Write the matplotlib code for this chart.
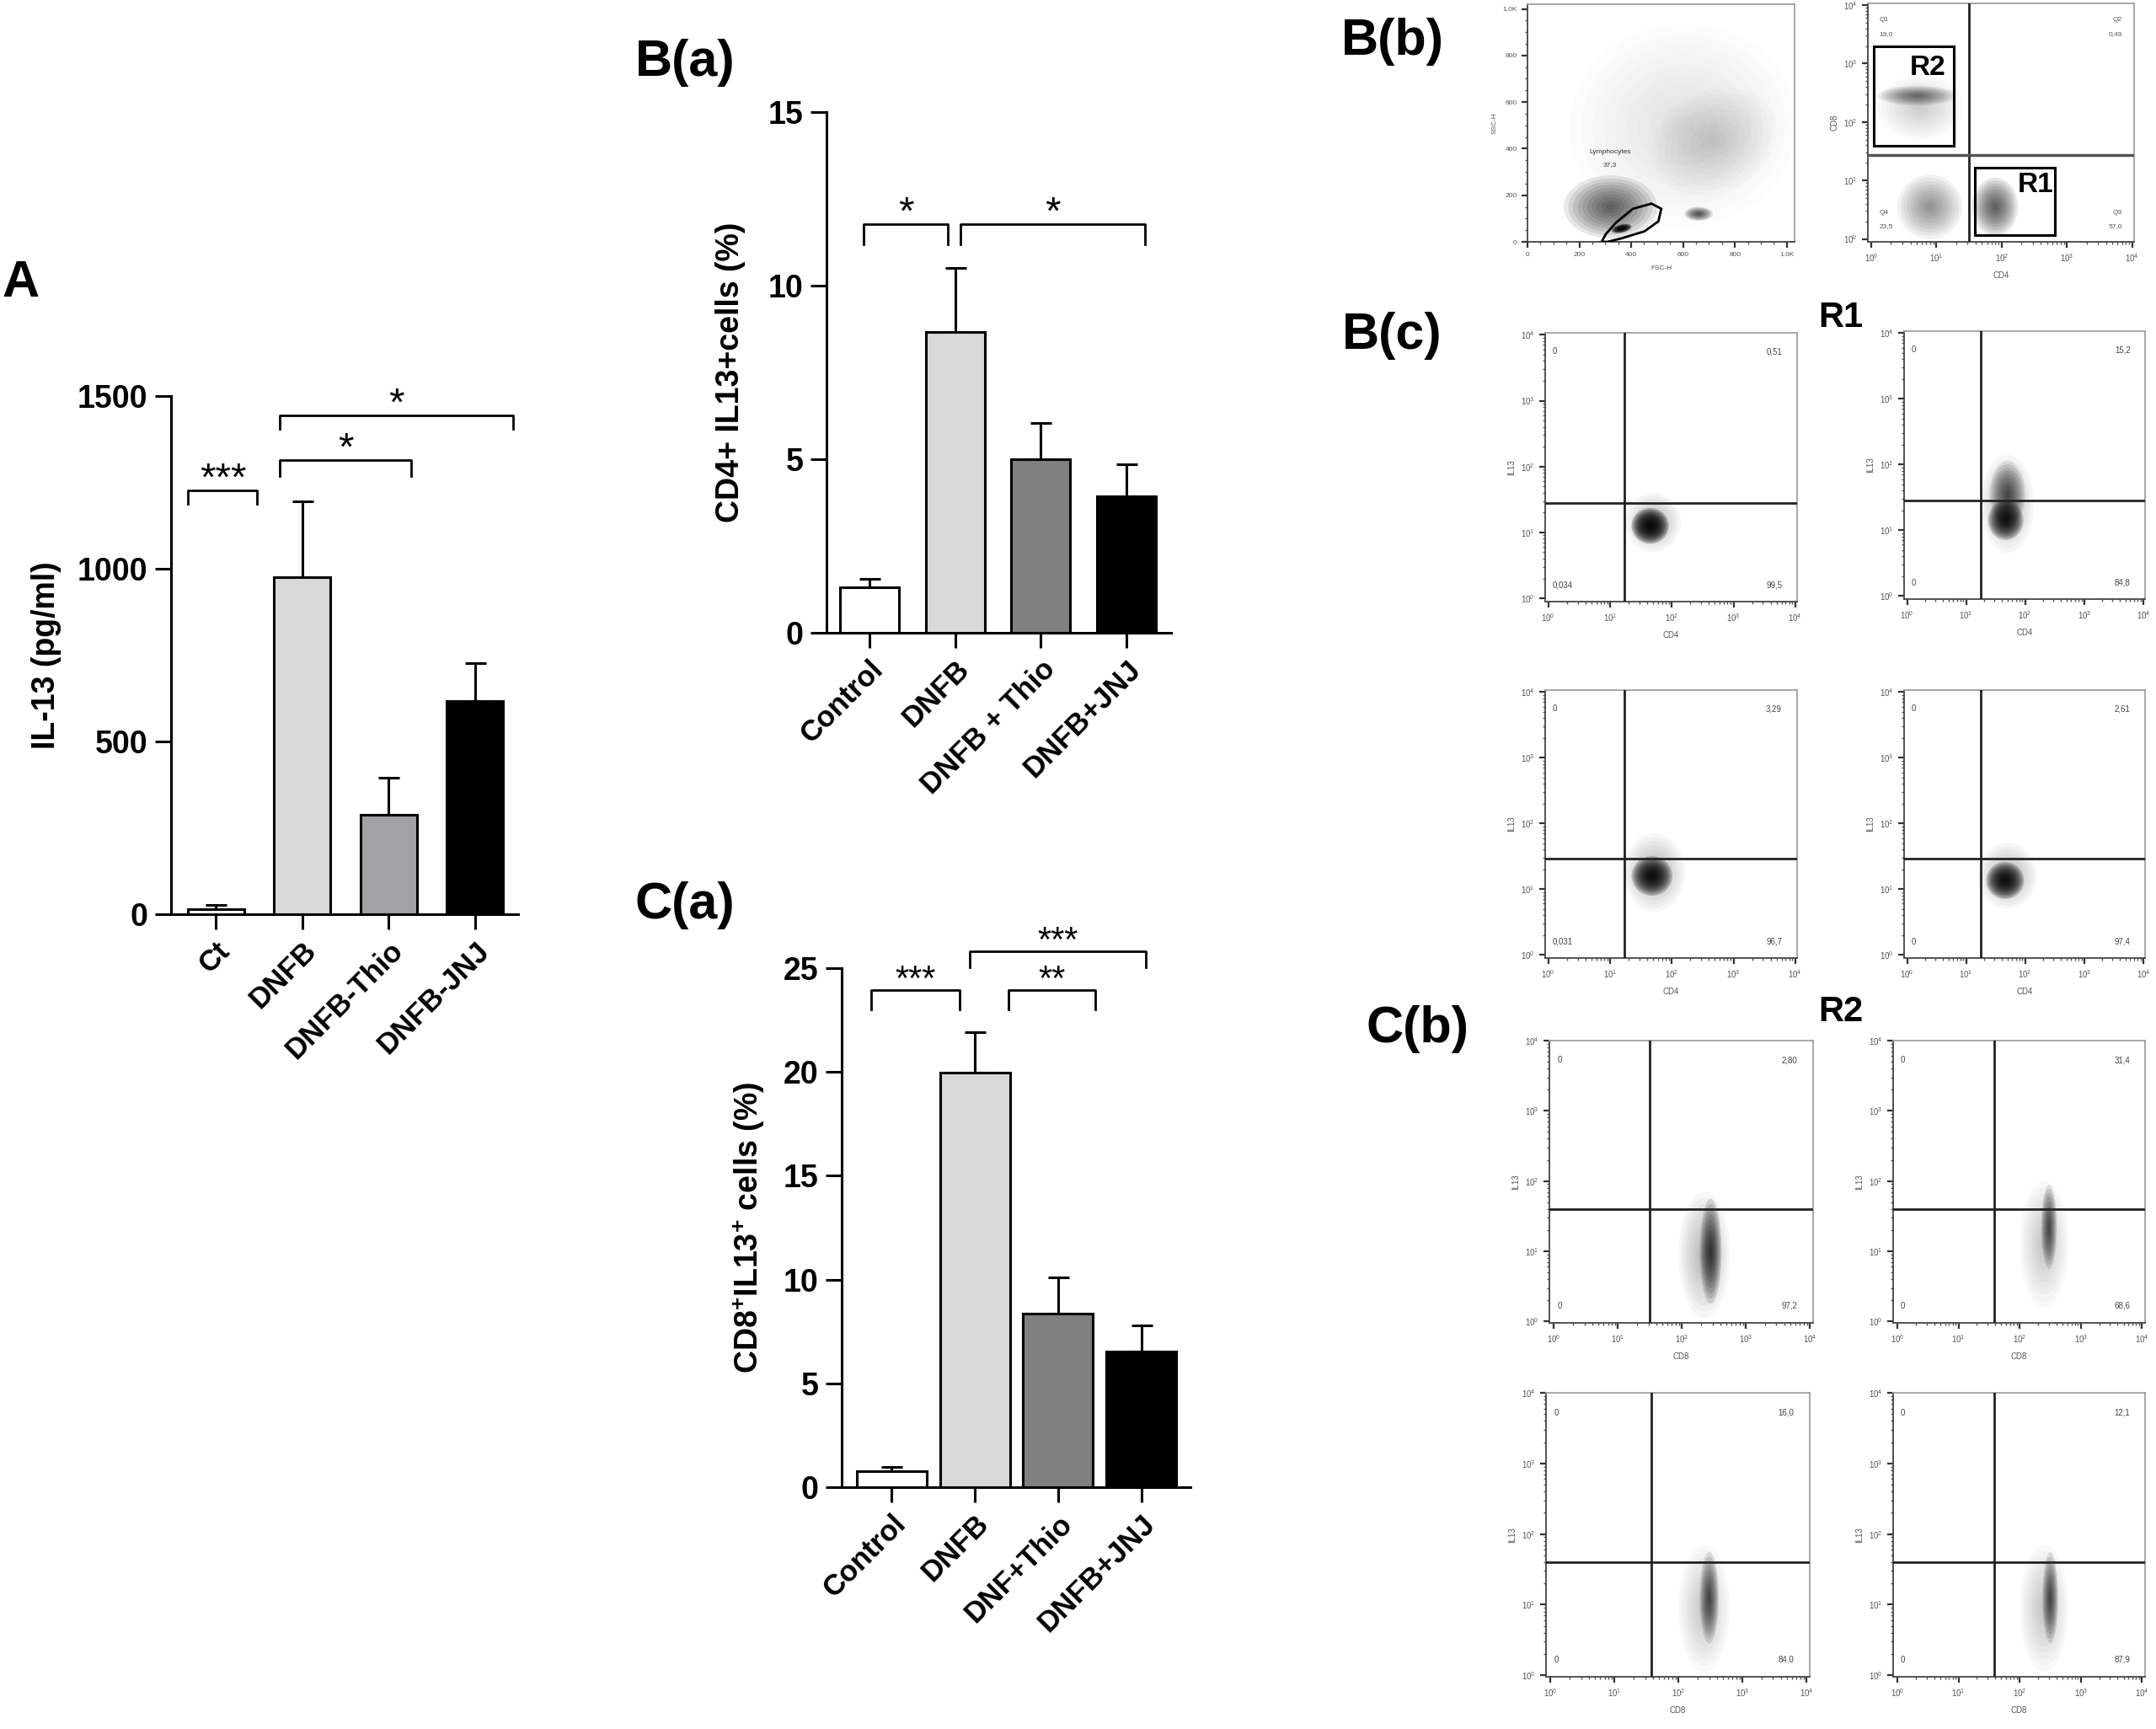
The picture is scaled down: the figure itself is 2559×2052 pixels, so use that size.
import matplotlib
matplotlib.use('Agg')
import matplotlib.pyplot as plt
from matplotlib.patches import Ellipse, Rectangle, Polygon
import numpy as np

plt.rcParams['font.family'] = ['Liberation Sans', 'DejaVu Sans']
plt.rcParams['mathtext.fontset'] = 'custom'
plt.rcParams['mathtext.rm'] = 'Liberation Sans'
plt.rcParams['mathtext.bf'] = 'Liberation Sans:bold'

# ---------------- bar chart data ----------------
a_labels = ['Ct', 'DNFB', 'DNFB-Thio', 'DNFB-JNJ']
a_means = [15, 975, 288, 617]
a_errs = [13, 220, 106, 109]
a_colors = ['white', '#d9d9d9', '#a2a2a6', 'black']
a_yticks = [0, 500, 1000, 1500]
# (x1, x2, y_leg, y_top, stars)
a_brackets = [(-0.32, 0.48, 1188, 1227, '***'),
              (0.74, 2.26, 1269, 1315, '*'),
              (0.74, 3.44, 1405, 1444, '*')]

ba_labels = ['Control', 'DNFB', 'DNFB + Thio', 'DNFB+JNJ']
ba_means = [1.31, 8.66, 5.0, 3.92]
ba_errs = [0.25, 1.84, 1.04, 0.93]
ba_colors = ['white', '#d9d9d9', '#808080', 'black']
ba_yticks = [0, 5, 10, 15]
ba_brackets = [(-0.07, 0.92, 11.2, 11.77, '*'),
               (1.06, 3.22, 11.2, 11.77, '*')]

ca_labels = ['Control', 'DNFB', 'DNF+Thio', 'DNFB+JNJ']
ca_means = [0.78, 19.98, 8.35, 6.53]
ca_errs = [0.21, 1.95, 1.75, 1.27]
ca_colors = ['white', '#d9d9d9', '#808080', 'black']
ca_yticks = [0, 5, 10, 15, 20, 25]
ca_brackets = [(-0.25, 0.82, 23.0, 23.96, '***'),
               (1.40, 2.45, 23.0, 23.96, '**'),
               (0.94, 3.05, 25.05, 25.83, '***')]

# ---------------- flow cytometry annotations ----------------
# FSC/SSC plot
fsc_ticks = [0, 200, 400, 600, 800, 1000]
fsc_ticklabels = ['0', '200', '400', '600', '800', '1.0K']
gate_x = [286, 302, 341, 407, 478, 516, 505, 451, 363, 308]
gate_y = [0, 33, 82, 142, 164, 142, 88, 45, 15, 0]
# clouds: (cx, cy, rx, ry, strength, angle)
fsc_clouds = [(600, 500, 440, 430, 0.01, 35),
              (720, 430, 260, 210, 0.015, 40),
              (320, 150, 180, 135, 0.09, 0),
              (660, 120, 55, 30, 0.1, 0),
              (363, 57, 40, 18, 0.3, 15)]

# CD4 / CD8 plot (log decades)
cd_vline, cd_hline = 1.5, 1.43
r2_box = (0.04, 1.6, 1.23, 1.69)
r1_box = (1.59, 0.06, 1.23, 1.16)
cd_clouds = [(0.75, 2.25, 0.65, 0.55, 0.02, 0),
             (0.7, 2.45, 0.6, 0.17, 0.07, 0),
             (0.9, 0.55, 0.5, 0.55, 0.05, 0),
             (1.9, 0.55, 0.35, 0.5, 0.09, 0)]
cd_texts = [(0.12, 3.75, 'Q1', 'left'), (0.12, 3.5, '19,0', 'left'),
            (3.85, 3.75, 'Q2', 'right'), (3.85, 3.5, '0,49', 'right'),
            (0.12, 0.45, 'Q4', 'left'), (0.12, 0.21, '23,5', 'left'),
            (3.85, 0.45, 'Q3', 'right'), (3.85, 0.21, '57,0', 'right')]

# B(c) R1 gated, IL13 vs CD4
bc_vlines = [1.23, 1.25, 1.23, 1.25]
bc_hlines = [1.45, 1.45, 1.47, 1.47]
bc_values = [['0', '0,51', '0,034', '99,5'],
             ['0', '15,2', '0', '84,8'],
             ['0', '3,29', '0,031', '96,7'],
             ['0', '2,61', '0', '97,4']]
bc_clouds = [[(1.7, 1.15, 0.45, 0.45, 0.03, 0), (1.65, 1.1, 0.3, 0.27, 0.25, 0)],
             [(1.7, 1.4, 0.45, 0.75, 0.03, 0), (1.7, 1.55, 0.3, 0.5, 0.09, 0),
              (1.67, 1.15, 0.3, 0.3, 0.2, 0)],
             [(1.72, 1.25, 0.5, 0.6, 0.03, 0), (1.68, 1.2, 0.33, 0.3, 0.22, 0)],
             [(1.7, 1.2, 0.5, 0.5, 0.03, 0), (1.66, 1.13, 0.32, 0.28, 0.22, 0)]]

# C(b) R2 gated, IL13 vs CD8
cb_vlines = [1.49, 1.58, 1.58, 1.58]
cb_hlines = [1.6, 1.6, 1.6, 1.6]
cb_values = [['0', '2,80', '0', '97,2'],
             ['0', '31,4', '0', '68,6'],
             ['0', '16,0', '0', '84,0'],
             ['0', '12,1', '0', '87,9']]
cb_clouds = [[(2.35, 0.95, 0.4, 0.9, 0.03, 0), (2.45, 1.0, 0.17, 0.75, 0.12, 0)],
             [(2.4, 1.1, 0.4, 0.9, 0.025, 0), (2.48, 1.35, 0.13, 0.6, 0.1, 0)],
             [(2.4, 0.95, 0.4, 0.9, 0.025, 0), (2.48, 1.1, 0.15, 0.65, 0.1, 0)],
             [(2.4, 0.95, 0.4, 0.9, 0.025, 0), (2.5, 1.1, 0.13, 0.65, 0.1, 0)]]

W, H = 2559, 2052
fig = plt.figure(figsize=(W / 100, H / 100), dpi=100)
fig.patch.set_facecolor('white')


def px_rect(x0, y0, x1, y1):
    return [x0 / W, 1 - y1 / H, (x1 - x0) / W, (y1 - y0) / H]


def bar_panel(rect, labels, means, errs, colors, yticks, xlim, width, brackets,
              ylabel, label_x, star_size=34):
    ax = fig.add_axes(rect)
    x = np.arange(len(means))
    ax.bar(x, means, width=width, color=colors, edgecolor='black', linewidth=2.2, zorder=2)
    ax.errorbar(x, means, yerr=[np.zeros(len(errs)), errs], fmt='none', ecolor='black',
                elinewidth=2.2, capsize=9, capthick=2.2, zorder=1)
    ax.set_xlim(xlim)
    ax.set_ylim(0, yticks[-1])
    for s in ['top', 'right']:
        ax.spines[s].set_visible(False)
    for s in ['left', 'bottom']:
        ax.spines[s].set_linewidth(2.2)
    ax.set_yticks(yticks)
    ax.set_yticklabels([str(t) for t in yticks], fontweight='bold', fontsize=27)
    ax.set_xticks(x)
    ax.set_xticklabels(labels, rotation=45, ha='right', rotation_mode='anchor',
                       fontweight='bold', fontsize=25)
    ax.tick_params(axis='y', length=14, width=2.2, pad=6)
    ax.tick_params(axis='x', length=13, width=2.2, pad=6)
    ax.set_ylabel(ylabel, fontsize=27, fontweight='bold')
    ax.yaxis.set_label_coords(label_x, 0.5)
    for x1, x2, yl, yt, stars in brackets:
        ax.plot([x1, x1, x2, x2], [yl, yt, yt, yl], color='black', lw=2, clip_on=False)
        ax.text((x1 + x2) / 2, yt, stars, ha='center', va='baseline',
                fontsize=star_size, clip_on=False)
    return ax


bar_panel(px_rect(203, 470, 615, 1085), a_labels, a_means, a_errs, a_colors, a_yticks,
          (-0.52, 3.5), 0.65, a_brackets, 'IL-13 (pg/ml)', -0.315)
bar_panel(px_rect(981, 133, 1390, 751), ba_labels, ba_means, ba_errs, ba_colors, ba_yticks,
          (-0.5, 3.52), 0.69, ba_brackets, 'CD4+ IL13+cells (%)', -0.235)
bar_panel(px_rect(999, 1149, 1413, 1765), ca_labels, ca_means, ca_errs, ca_colors, ca_yticks,
          (-0.6, 3.59), 0.84, ca_brackets,
          r'CD8$^{\mathbf{+}}$IL13$^{\mathbf{+}}$ cells (%)', -0.215, star_size=30)


def cloud(ax, c, n=10):
    cx, cy, rx, ry, strength, angle = c
    for k in range(n):
        f = 1 - k / n
        ax.add_patch(Ellipse((cx, cy), 2 * rx * f, 2 * ry * f, angle=angle,
                             facecolor='black', edgecolor='none', alpha=strength, zorder=1))


def log_axes(rect, xlabel, ylabel, xlim=(-0.05, 4.03), ylim=(-0.05, 4.03)):
    ax = fig.add_axes(rect)
    ax.set_xlim(xlim)
    ax.set_ylim(ylim)
    for s in ax.spines.values():
        s.set_color('#a0a0a0')
        s.set_linewidth(1.3)
    ax.spines['left'].set_color('#444444')
    ax.spines['bottom'].set_color('#444444')
    dec = [0, 1, 2, 3, 4]
    minor = [d + np.log10(m) for d in range(4) for m in range(2, 10)]
    ax.set_xticks(dec)
    ax.set_yticks(dec)
    ax.set_xticks(minor, minor=True)
    ax.set_yticks(minor, minor=True)
    ax.set_xticklabels([r'$10^{%d}$' % d for d in dec])
    ax.set_yticklabels([r'$10^{%d}$' % d for d in dec])
    ax.tick_params(which='major', length=5, width=1.6, color='#333333', labelsize=7,
                   labelcolor='#555555', pad=4)
    ax.tick_params(which='minor', length=2.5, width=1, color='#555555')
    ax.set_xlabel(xlabel, fontsize=7, color='#555555', labelpad=6)
    ax.set_ylabel(ylabel, fontsize=7, color='#555555', labelpad=4)
    return ax


def quad_plot(rect, xlabel, vline, hline, values, clouds, xlim=(-0.05, 4.03), ylim=(-0.05, 4.03)):
    ax = log_axes(rect, xlabel, 'IL13', xlim, ylim)
    for c in clouds:
        cloud(ax, c)
    ax.axvline(vline, color='#222222', lw=2, zorder=3)
    ax.axhline(hline, color='#222222', lw=2, zorder=3)
    pos = [(0.03, 0.93, 'left'), (0.94, 0.93, 'right'), (0.03, 0.06, 'left'), (0.94, 0.06, 'right')]
    for (px, py, ha), v in zip(pos, values):
        ax.text(px, py, v, transform=ax.transAxes, ha=ha, va='center', fontsize=7, color='#444444')
    return ax


# B(b) FSC / SSC
ax = fig.add_axes(px_rect(1813, 5, 2130, 287))
ax.set_xlim(0, 1030)
ax.set_ylim(0, 1020)
for c in fsc_clouds:
    cloud(ax, c)
ax.add_patch(Polygon(list(zip(gate_x, gate_y)), closed=True, fill=False, edgecolor='black',
                     lw=2, zorder=3))
ax.text(319, 386, 'Lymphocytes', ha='center', va='center', fontsize=6, color='#333333', zorder=4)
ax.text(319, 331, '37,3', ha='center', va='center', fontsize=6, color='#333333', zorder=4)
for s in ax.spines.values():
    s.set_color('#a0a0a0')
    s.set_linewidth(1.3)
ax.spines['left'].set_color('#444444')
ax.spines['bottom'].set_color('#444444')
ax.set_xticks(fsc_ticks)
ax.set_yticks(fsc_ticks)
ax.set_xticklabels(fsc_ticklabels)
ax.set_yticklabels(fsc_ticklabels)
ax.set_xticks(np.arange(0, 1030, 50), minor=True)
ax.set_yticks(np.arange(0, 1020, 50), minor=True)
ax.tick_params(which='major', length=5, width=1.6, color='#333333', labelsize=6,
               labelcolor='#555555', pad=4)
ax.tick_params(which='minor', length=2.5, width=1, color='#555555')
ax.set_xlabel('FSC-H', fontsize=6, color='#555555', labelpad=6)
ax.set_ylabel('SSC-H', fontsize=6, color='#555555', labelpad=4)

# B(b) CD4 / CD8
ax = log_axes(px_rect(2217, 4, 2533, 287), 'CD4', 'CD8')
for c in cd_clouds:
    cloud(ax, c)
ax.axvline(cd_vline, color='#222222', lw=2, zorder=3)
ax.axhline(cd_hline, color='#555555', lw=2.5, zorder=3)
for bx, by, bw, bh in [r2_box, r1_box]:
    ax.add_patch(Rectangle((bx, by), bw, bh, fill=False, edgecolor='black', lw=2.2, zorder=4))
ax.text(1.14, 2.8, 'R2', ha='right', va='baseline', fontsize=24, fontweight='bold', zorder=5)
ax.text(2.8, 0.8, 'R1', ha='right', va='baseline', fontsize=24, fontweight='bold', zorder=5)
for tx, ty, t, ha in cd_texts:
    ax.text(tx, ty, t, ha=ha, va='center', fontsize=6, color='#555555')

# B(c)
bc_rects = [px_rect(1834, 395, 2133, 714), px_rect(2260, 393, 2546, 711),
            px_rect(1834, 819, 2133, 1137), px_rect(2260, 819, 2546, 1137)]
for i in range(4):
    quad_plot(bc_rects[i], 'CD4', bc_vlines[i], bc_hlines[i], bc_values[i], bc_clouds[i])

# C(b)
cb_rects = [px_rect(1839, 1235, 2152, 1570), px_rect(2247, 1235, 2546, 1570),
            px_rect(1835, 1653, 2148, 1990), px_rect(2247, 1653, 2546, 1990)]
for i in range(4):
    quad_plot(cb_rects[i], 'CD8', cb_vlines[i], cb_hlines[i], cb_values[i], cb_clouds[i],
              xlim=(-0.07, 4.05), ylim=(-0.02, 4.0))

# panel labels
lab = dict(fontsize=44, fontweight='bold', va='baseline', ha='left')
fig.text(2 / W, 1 - 352 / H, 'A', **lab)
fig.text(754 / W, 1 - 90 / H, 'B(a)', **lab)
fig.text(754 / W, 1 - 1090 / H, 'C(a)', **lab)
fig.text(1592 / W, 1 - 65 / H, 'B(b)', **lab)
fig.text(1593 / W, 1 - 414 / H, 'B(c)', **lab)
fig.text(1621 / W, 1 - 1237 / H, 'C(b)', **lab)
fig.text(2158 / W, 1 - 388 / H, 'R1', fontsize=30, fontweight='bold', va='baseline')
fig.text(2158 / W, 1 - 1212 / H, 'R2', fontsize=30, fontweight='bold', va='baseline')

fig.savefig('out.png', dpi=100, facecolor='white')
